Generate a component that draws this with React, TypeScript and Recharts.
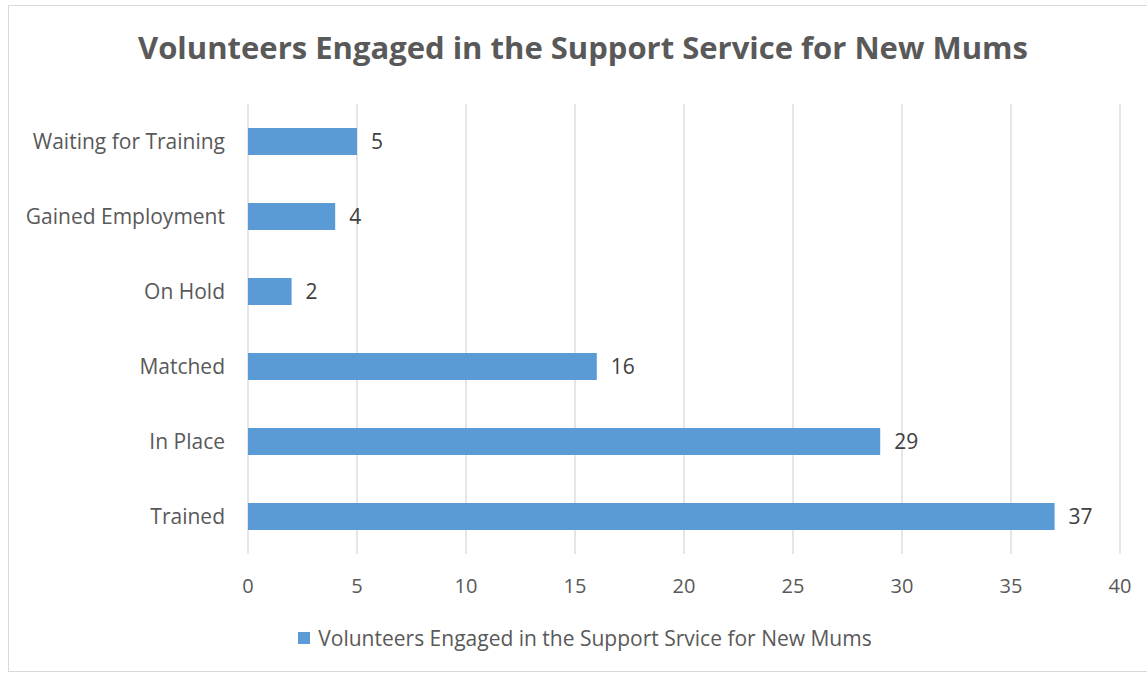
import React from 'react';
import {
  BarChart,
  Bar,
  XAxis,
  YAxis,
  CartesianGrid,
  LabelList,
  Legend
} from 'recharts';

const categories = ['Waiting for Training', 'Gained Employment', 'On Hold', 'Matched', 'In Place', 'Trained'];
const volunteers = [5, 4, 2, 16, 29, 37];
const xTicks = [0, 5, 10, 15, 20, 25, 30, 35, 40];

const SERIES_NAME = 'Volunteers Engaged in the Support Srvice for New Mums';
const TITLE = 'Volunteers Engaged in the Support Service for New Mums';
const BAR_COLOR = '#5B9BD5';
const TEXT_COLOR = '#595959';
const FONT = '"Open Sans", sans-serif';

const data = categories.map((name, i) => ({ name, value: volunteers[i] }));

const LegendContent = () => (
  <div style={{ display: 'flex', justifyContent: 'center', alignItems: 'center', fontFamily: FONT, fontSize: 21, color: TEXT_COLOR }}>
    <span style={{ width: 12, height: 12, background: BAR_COLOR, display: 'inline-block', marginRight: 8 }} />
    <span>{SERIES_NAME}</span>
  </div>
);

const App: React.FC = () => {
  return (
    <div style={{ position: 'absolute', left: 0, top: 0, width: 1147, height: 675, background: '#fff', overflow: 'hidden' }}>
      {/* chart frame */}
      <div style={{ position: 'absolute', left: 8, top: 5, width: 1150, height: 667, border: '1px solid #d9d9d9', boxSizing: 'border-box' }} />
      <div
        style={{
          position: 'absolute',
          left: 8,
          width: 1150,
          top: 26,
          textAlign: 'center',
          fontFamily: FONT,
          fontWeight: 'bold',
          fontSize: 31,
          color: TEXT_COLOR
        }}
      >
        {TITLE}
      </div>
      <div style={{ position: 'absolute', left: 0, top: 0 }}>
        <BarChart
          width={1147}
          height={675}
          data={data}
          layout="vertical"
          margin={{ top: 104, right: 27, left: 0, bottom: 63 }}
        >
          <CartesianGrid horizontal={false} stroke="#d9d9d9" strokeWidth={1.3} />
          <XAxis
            type="number"
            domain={[0, 40]}
            ticks={xTicks}
            axisLine={false}
            tickLine={false}
            tickMargin={19}
            tick={{ fontSize: 20, fill: TEXT_COLOR, fontFamily: FONT }}
            interval={0}
          />
          <YAxis
            type="category"
            dataKey="name"
            width={248}
            axisLine={false}
            tickLine={false}
            tickSize={0}
            tickMargin={23}
            tick={{ fontSize: 21, fill: TEXT_COLOR, fontFamily: FONT }}
            interval={0}
          />
          <Legend
            content={<LegendContent />}
            wrapperStyle={{ left: 0, width: 1170, top: 624 }}
          />
          <Bar dataKey="value" name={SERIES_NAME} fill={BAR_COLOR} barSize={27} isAnimationActive={false}>
            <LabelList
              dataKey="value"
              position="right"
              offset={14}
              style={{ fontSize: 21, fill: '#404040', fontFamily: FONT }}
            />
          </Bar>
        </BarChart>
      </div>
    </div>
  );
};

export default App;
